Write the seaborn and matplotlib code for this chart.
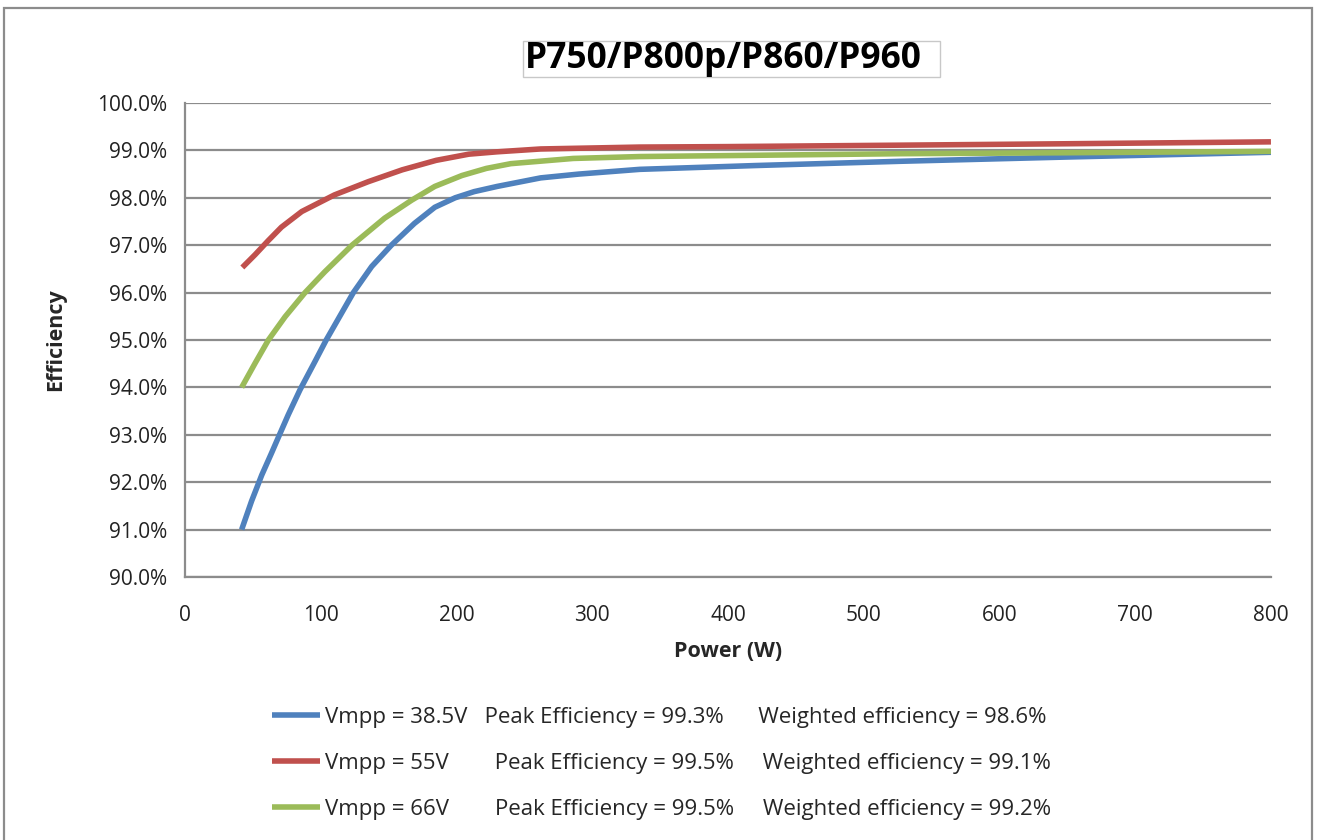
import matplotlib
matplotlib.use('Agg')
import matplotlib.pyplot as plt
from matplotlib.patches import Rectangle
from matplotlib.ticker import FuncFormatter, MultipleLocator
import seaborn as sns
import pandas as pd

# curves
power_385 = [41.7, 49, 56.5, 63.8, 68.8, 76, 84.7, 95.8, 104, 113, 124, 137.5, 152, 169, 184, 199,
             213, 230, 262, 290, 335, 420, 527, 650, 800]
eff_385 = [91.0, 91.6, 92.15, 92.62, 92.95, 93.42, 93.95, 94.55, 95.0, 95.45, 96.0, 96.55, 97.0, 97.46,
           97.8, 98.0, 98.13, 98.24, 98.42, 98.5, 98.6, 98.68, 98.77, 98.86, 98.96]

power_55 = [42.2, 51.6, 61.4, 71, 86, 110, 135, 160, 185, 209, 230, 262, 335, 400, 527, 650, 800]
eff_55 = [96.53, 96.8, 97.1, 97.38, 97.71, 98.06, 98.34, 98.59, 98.79, 98.92, 98.97, 99.03, 99.07,
          99.08, 99.11, 99.14, 99.18]

power_66 = [41.7, 51.6, 61.4, 73.7, 88.4, 103, 123, 147, 167, 184, 204, 222, 240, 286, 335, 400,
            527, 650, 800]
eff_66 = [94.0, 94.51, 95.0, 95.49, 96.0, 96.44, 97.0, 97.57, 97.95, 98.24, 98.47, 98.62, 98.72,
          98.83, 98.87, 98.89, 98.93, 98.95, 98.98]

labels = [
    'Vmpp = 38.5V   Peak Efficiency = 99.3%      Weighted efficiency = 98.6%',
    'Vmpp = 55V        Peak Efficiency = 99.5%     Weighted efficiency = 99.1%',
    'Vmpp = 66V        Peak Efficiency = 99.5%     Weighted efficiency = 99.2%',
]
colors = ['#4F81BD', '#C0504D', '#9BBB59']

df = pd.concat([
    pd.DataFrame({'Power': power_385, 'Efficiency': eff_385, 'series': labels[0]}),
    pd.DataFrame({'Power': power_55, 'Efficiency': eff_55, 'series': labels[1]}),
    pd.DataFrame({'Power': power_66, 'Efficiency': eff_66, 'series': labels[2]}),
])

sns.set_style('white')
plt.rcParams['font.family'] = ['Open Sans', 'DejaVu Sans']

fig = plt.figure(figsize=(13.18, 8.4), dpi=100)
ax = fig.add_axes([0.1404, 0.3131, 0.8239, 0.5643])

sns.lineplot(data=df, x='Power', y='Efficiency', hue='series', palette=colors,
             hue_order=labels, estimator=None, sort=True, linewidth=4,
             solid_capstyle='butt', solid_joinstyle='round', ax=ax, zorder=3)

ax.set_xlim(0, 800)
ax.set_ylim(90, 100)
ax.xaxis.set_major_locator(MultipleLocator(100))
ax.yaxis.set_major_locator(MultipleLocator(1))
ax.yaxis.set_major_formatter(FuncFormatter(lambda v, p: '%.1f%%' % v))
ax.grid(axis='y', color='#8c8c8c', linewidth=1.6)
ax.grid(axis='x', visible=False)
for side in ['top', 'right']:
    ax.spines[side].set_visible(False)
for side in ['left', 'bottom']:
    ax.spines[side].set_color('#8c8c8c')
    ax.spines[side].set_linewidth(1.6)
ax.tick_params(axis='both', which='major', direction='out', length=7, width=1.6,
               color='#8c8c8c', labelsize=15, labelcolor='#222222')
ax.tick_params(axis='y', pad=6)
ax.tick_params(axis='x', pad=13)
ax.set_xlabel('Power (W)', fontsize=15.5, fontweight='bold', labelpad=11)
ax.set_ylabel('Efficiency', fontsize=15.5, fontweight='bold', labelpad=22)

leg = ax.legend(loc='upper left', bbox_to_anchor=(0.072, -0.255), frameon=False,
                fontsize=16, handlelength=2.16, handletextpad=0.23,
                labelspacing=1.12, borderaxespad=0)
for h in leg.get_lines():
    h.set_linewidth(4)

# title with its thin box
fig.text(525 / 1318, 1 - 59 / 840, 'P750/P800p/P860/P960', ha='left', va='center',
         fontsize=25.5, fontweight='bold', color='black')
fig.patches.append(Rectangle((523 / 1318, 1 - 77 / 840), 417 / 1318, 36 / 840,
                             transform=fig.transFigure, fill=False,
                             edgecolor='#c8c8c8', linewidth=1))

# outer chart border
fig.patches.append(Rectangle((4 / 1318, -0.05), 1308 / 1318, 1.05 - 8 / 840,
                             transform=fig.transFigure, fill=False,
                             edgecolor='#8c8c8c', linewidth=1.6))

fig.savefig('out.png', dpi=100, facecolor='white')
